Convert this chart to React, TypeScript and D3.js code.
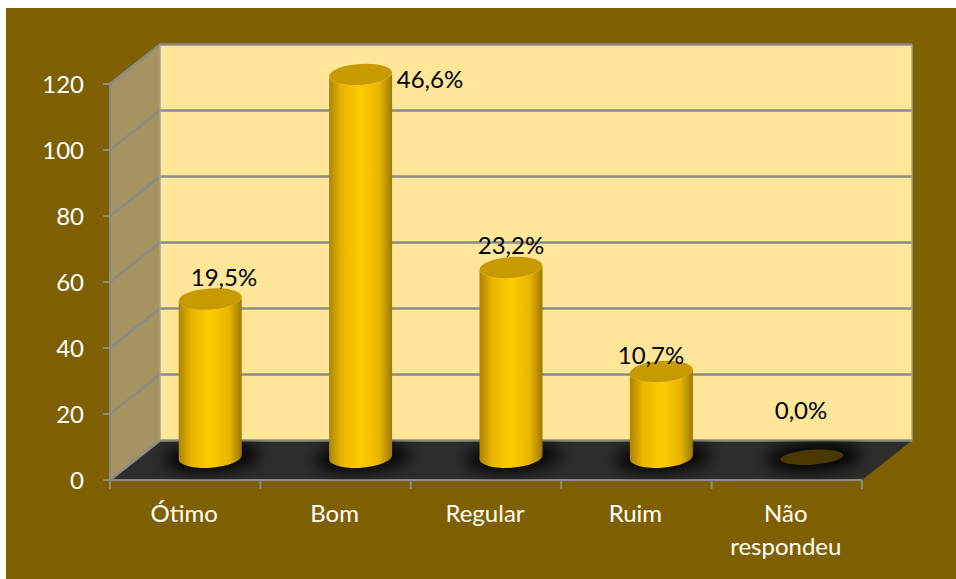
import React from 'react';
import * as d3 from 'd3';

const categories = ['Ótimo', 'Bom', 'Regular', 'Ruim', 'Não respondeu'];
const values = [48, 116, 57.5, 26, 0];
const percentLabels = ['19,5%', '46,6%', '23,2%', '10,7%', '0,0%'];
const yTicks = [0, 20, 40, 60, 80, 100, 120];
const labelX = [224, 430, 511, 651, 801];
const labelY = [278, 80, 246, 356, 411];

const width = 956, height = 579;
const depthX = 50, depthY = -39.5;

function App() {
  const x = d3.scaleBand().domain(categories).range([110, 862]);
  const y = d3.scaleLinear().domain([0, 120]).range([480, 84]);
  const baseY = y(0), left = x.range()[0], right = x.range()[1];
  const rx = 31.5, ry = 10.5, tilt = -4;
  const floor = `M${left},${baseY}L${right},${baseY}L${right + depthX},${baseY + depthY}L${left + depthX},${baseY + depthY}Z`;

  const bars = categories.map((c, i) => {
    const cx = x(c)! + x.bandwidth() / 2 + depthX / 2;
    const by = y(0) + depthY / 2 - 3;
    const h = y(0) - y(values[i]);
    return { c, cx, by, h };
  });

  return (
    <svg width={width} height={height} style={{ position: 'absolute', left: 0, top: 0 }}
      fontFamily="Lato, sans-serif">
      <defs>
        <linearGradient id="cyl" x1="0" x2="1" y1="0" y2="0">
          <stop offset="0" stopColor="#ad8400" />
          <stop offset="0.2" stopColor="#e8b500" />
          <stop offset="0.5" stopColor="#ffcc00" />
          <stop offset="0.8" stopColor="#e8b500" />
          <stop offset="1" stopColor="#9c7800" />
        </linearGradient>
        <filter id="blur" x="-50%" y="-150%" width="200%" height="400%">
          <feGaussianBlur stdDeviation="8" />
        </filter>
        <clipPath id="floorClip">
          <path d={floor} />
        </clipPath>
      </defs>
      <rect x={6} y={8} width={950} height={571} fill="#7f6000" />
      {/* back wall */}
      <rect x={left + depthX} y={y(120) + depthY} width={right - left} height={y(0) - y(120)} fill="#ffe699" />
      {/* side wall */}
      <path d={`M${left},${baseY}L${left},${y(120)}L${left + depthX},${y(120) + depthY}L${left + depthX},${baseY + depthY}Z`} fill="#a59362" />
      {/* floor */}
      <path d={floor} fill="#2d2d2d" />
      {yTicks.map((t) => (
        <path key={t} d={`M${left},${y(t)}L${left + depthX},${y(t) + depthY}L${right + depthX},${y(t) + depthY}`}
          fill="none" stroke="#8c8c84" strokeWidth={2.5} />
      ))}
      <path d={`M${left + depthX},${y(120) + depthY}V${baseY + depthY}`} stroke="#a8a48c" strokeWidth={1.5} />
      <path d={`M${right + depthX},${y(120) + depthY}V${baseY + depthY}`} stroke="#a8a48c" strokeWidth={1.5} />
      {/* front axes */}
      <path d={`M${left},${y(120)}V${baseY}H${right}`} fill="none" stroke="#8c8c84" strokeWidth={2} />
      {yTicks.map((t) => (
        <line key={t} x1={left - 7} x2={left} y1={y(t)} y2={y(t)} stroke="#8c8c84" strokeWidth={2} />
      ))}
      {[...categories.map((c) => x(c)!), right].map((v) => (
        <line key={v} x1={v} x2={v} y1={baseY} y2={baseY + 9} stroke="#8c8c84" strokeWidth={2} />
      ))}
      {yTicks.map((t) => (
        <text key={t} x={84} y={y(t) + 1} dy="0.35em" textAnchor="end" fontSize={24} fill="#fff">{t}</text>
      ))}
      {/* shadows */}
      <g clipPath="url(#floorClip)">
        {bars.map((b) => (
          <ellipse key={b.c} cx={b.cx + 2} cy={b.by} rx={rx + 16} ry={ry + 4} fill="#000" opacity={0.95}
            filter="url(#blur)" transform={`rotate(${tilt} ${b.cx} ${b.by})`} />
        ))}
      </g>
      {/* cylinders */}
      {bars.map((b) => {
        const topY = b.by - b.h;
        if (b.h === 0) {
          return <ellipse key={b.c} cx={b.cx} cy={b.by} rx={rx} ry={7.5} fill="#4a3800"
            transform={`rotate(${tilt} ${b.cx} ${b.by})`} />;
        }
        const dy = rx * Math.tan((tilt * Math.PI) / 180);
        const d = `M${b.cx - rx},${topY - dy}L${b.cx - rx},${b.by - dy}`
          + `A${rx},${ry} ${tilt} 0 0 ${b.cx + rx},${b.by + dy}`
          + `L${b.cx + rx},${topY + dy}`
          + `A${rx},${ry} ${tilt} 0 1 ${b.cx - rx},${topY - dy}Z`;
        return (
          <g key={b.c}>
            <path d={d} fill="url(#cyl)" />
            <ellipse cx={b.cx} cy={topY} rx={rx} ry={ry} fill="#c79a00"
              transform={`rotate(${tilt} ${b.cx} ${topY})`} />
          </g>
        );
      })}
      {/* data labels */}
      {bars.map((b, i) => (
        <text key={b.c} x={labelX[i]} y={labelY[i]} dy="0.35em" textAnchor="middle" fontSize={24} fill="#000">{percentLabels[i]}</text>
      ))}
      {/* category labels */}
      {categories.map((c) => {
        const lines = c === 'Não respondeu' ? ['Não', 'respondeu'] : [c];
        const cx = x(c)! + x.bandwidth() / 2;
        return lines.map((l, j) => (
          <text key={l} x={cx - 1} y={514 + j * 33} dy="0.35em" textAnchor="middle" fontSize={24} fill="#fff">{l}</text>
        ));
      })}
    </svg>
  );
}

export default App;
